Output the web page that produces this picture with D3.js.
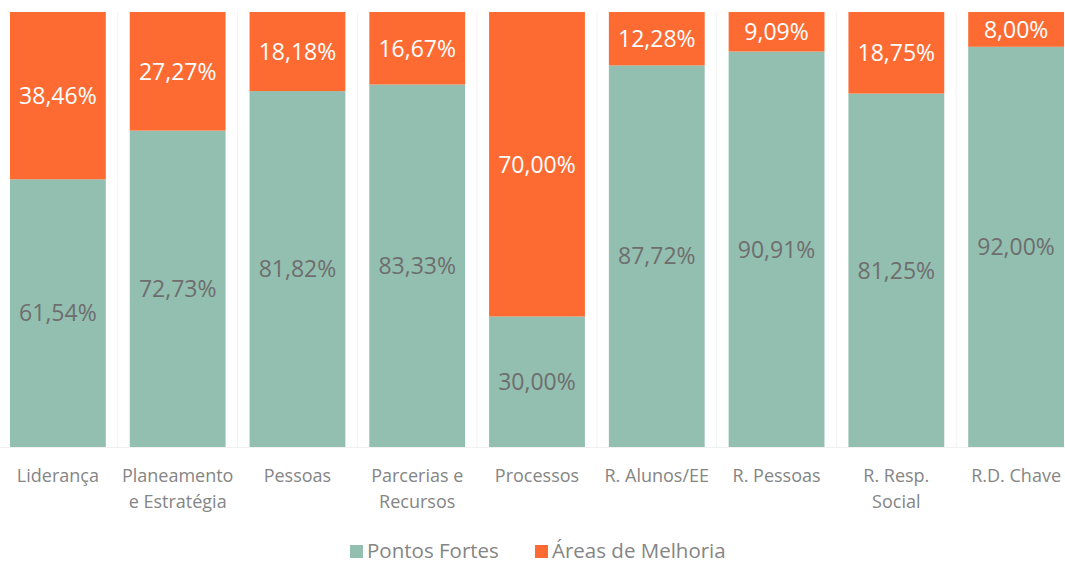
<!DOCTYPE html>
<html>
<head>
<meta charset="utf-8">
<script src="https://cdn.jsdelivr.net/npm/d3@7"></script>
<style>
  body { margin: 0; background: #fff; }
  svg { display: block; }
  text { font-family: 'Open Sans', sans-serif; }
</style>
</head>
<body>
<div id="chart"></div>
<script>
// data
const categories = ['Liderança', 'Planeamento e Estratégia', 'Pessoas', 'Parcerias e Recursos',
  'Processos', 'R. Alunos/EE', 'R. Pessoas', 'R. Resp. Social', 'R.D. Chave']
// label lines as shown
const categoryLines = [['Liderança'], ['Planeamento', 'e Estratégia'], ['Pessoas'], ['Parcerias e', 'Recursos'],
  ['Processos'], ['R. Alunos/EE'], ['R. Pessoas'], ['R. Resp.', 'Social'], ['R.D. Chave']]
const pontosFortes = [61.54, 72.73, 81.82, 83.33, 30.00, 87.72, 90.91, 81.25, 92.00]
const areasMelhoria = [38.46, 27.27, 18.18, 16.67, 70.00, 12.28, 9.09, 18.75, 8.00]
const seriesNames = ['Pontos Fortes', 'Áreas de Melhoria']
const colors = ['#93bfb0', '#fd6b33']

const width = 1065
const height = 564
const plot = { left: -2, right: 1076, top: 12, bottom: 447 }

const svg = d3.select('#chart').append('svg')
  .attr('width', width)
  .attr('height', height)

const rows = categories.map((c, i) => ({ cat: c, pf: pontosFortes[i], am: areasMelhoria[i] }))
const stack = d3.stack().keys(['pf', 'am'])(rows)

const xScale = d3.scaleBand()
  .domain(categories)
  .range([plot.left, plot.right])
  .paddingInner(0.2)
  .paddingOuter(0.1)

const yScale = d3.scaleLinear()
  .domain([0, 100])
  .range([plot.bottom, plot.top])

// faint category separators
const step = xScale.step()
svg.append('g')
  .selectAll('line')
  .data(categories.slice(1))
  .join('line')
  .attr('x1', d => xScale(d) - (step - xScale.bandwidth()) / 2)
  .attr('x2', d => xScale(d) - (step - xScale.bandwidth()) / 2)
  .attr('y1', plot.top)
  .attr('y2', plot.bottom)
  .attr('stroke', '#f2f2f2')
  .attr('stroke-width', 1)

svg.append('line')
  .attr('x1', 0).attr('x2', width)
  .attr('y1', plot.bottom + 0.5).attr('y2', plot.bottom + 0.5)
  .attr('stroke', '#f0f0f0')

// bars
const layers = svg.append('g')
  .selectAll('g')
  .data(stack)
  .join('g')
  .attr('fill', (d, i) => colors[i])

layers.selectAll('rect')
  .data(d => d)
  .join('rect')
  .attr('x', d => xScale(d.data.cat))
  .attr('width', xScale.bandwidth())
  .attr('y', d => yScale(d[1]))
  .attr('height', d => yScale(d[0]) - yScale(d[1]))

// value labels
const fmt = v => v.toFixed(2).replace('.', ',') + '%'
layers.selectAll('text')
  .data(d => d)
  .join('text')
  .attr('x', d => xScale(d.data.cat) + xScale.bandwidth() / 2)
  .attr('y', d => (yScale(d[0]) + yScale(d[1])) / 2)
  .attr('dy', '0.36em')
  .attr('text-anchor', 'middle')
  .attr('font-size', '23px')
  .attr('fill', function () {
    return d3.select(this.parentNode).datum().key === 'pf' ? '#6e6e6e' : '#ffffff'
  })
  .text(d => fmt(d[1] - d[0]))

// x axis labels
const xLabels = svg.append('g')
  .selectAll('text')
  .data(categories)
  .join('text')
  .attr('x', d => xScale(d) + xScale.bandwidth() / 2)
  .attr('y', 482)
  .attr('text-anchor', 'middle')
  .attr('font-size', '18px')
  .attr('fill', '#858585')

xLabels.selectAll('tspan')
  .data((d, i) => categoryLines[i])
  .join('tspan')
  .attr('x', function () { return d3.select(this.parentNode).attr('x') })
  .attr('dy', (d, i) => (i === 0 ? 0 : 26))
  .text(d => d)

// legend
const legend = svg.append('g').attr('transform', 'translate(350, 551)')
const legendItems = [
  { name: seriesNames[0], color: colors[0], x: 0 },
  { name: seriesNames[1], color: colors[1], x: 185 },
]
const item = legend.selectAll('g')
  .data(legendItems)
  .join('g')
  .attr('transform', d => `translate(${d.x}, 0)`)
item.append('rect')
  .attr('x', 0).attr('y', -6)
  .attr('width', 13).attr('height', 13)
  .attr('fill', d => d.color)
item.append('text')
  .attr('x', 17)
  .attr('dy', '0.35em')
  .attr('font-size', '20.5px')
  .attr('fill', '#858585')
  .text(d => d.name)
</script>
</body>
</html>
